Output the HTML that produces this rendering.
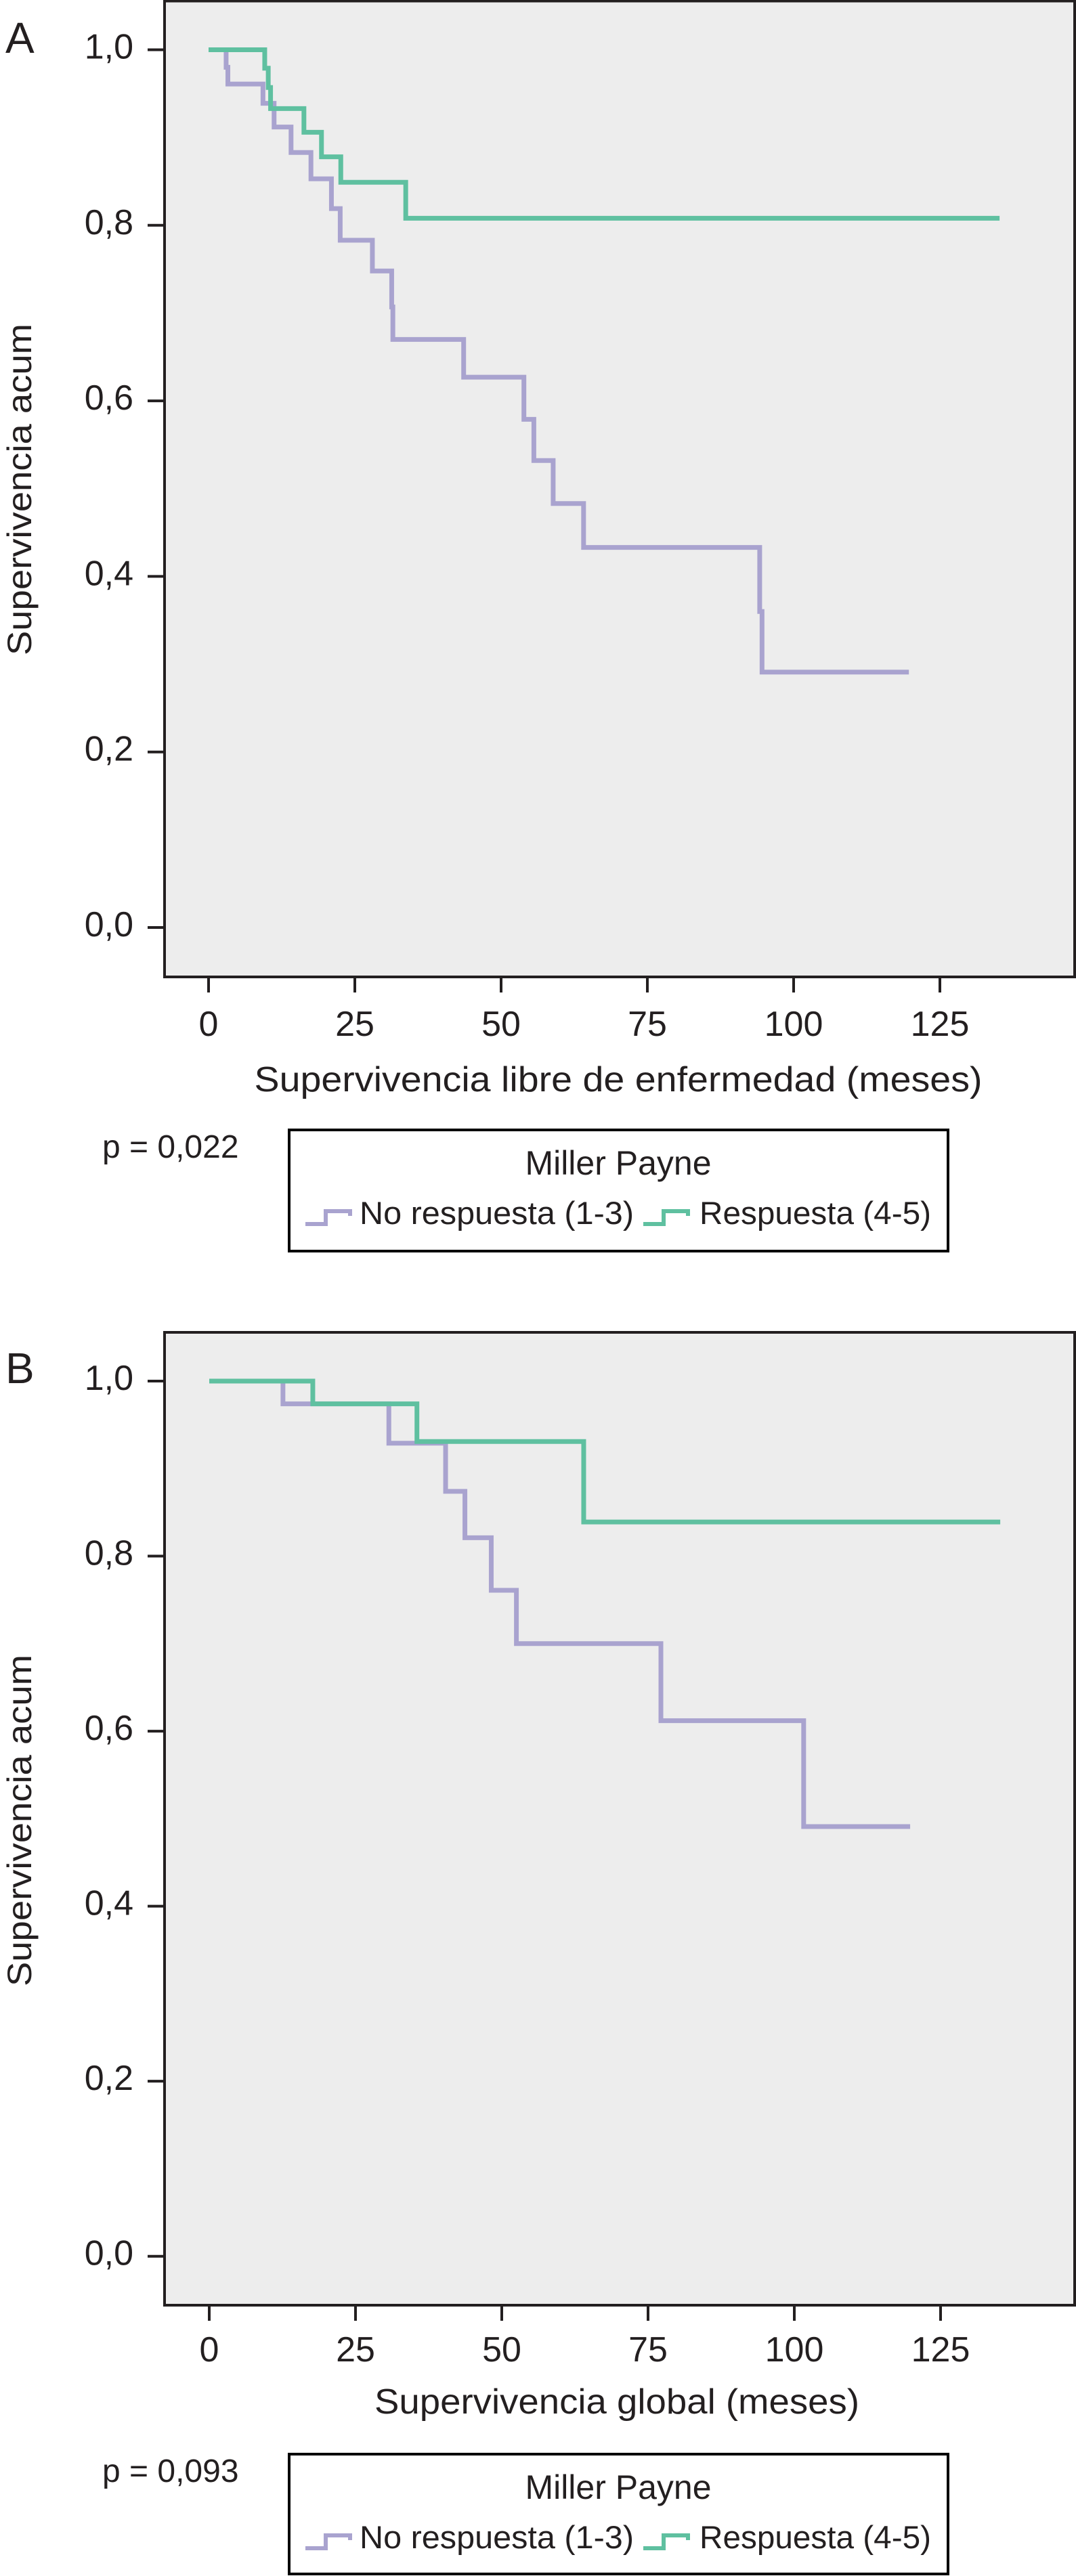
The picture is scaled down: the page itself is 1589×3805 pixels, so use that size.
<!DOCTYPE html>
<html><head><meta charset="utf-8"><style>
html,body{margin:0;padding:0;background:#fff}
svg{display:block}
text{font-family:"Liberation Sans",sans-serif;fill:#231f20}
</style></head><body>
<svg id="fig" width="1589" height="3805" viewBox="0 0 1589 3805" xmlns="http://www.w3.org/2000/svg"></svg>
<script>
// ---- data: panel A (disease-free survival) ----
const aNoRespTimes = [0, 3.0, 3.3, 9.3, 11.2, 14.1, 17.5, 21.0, 22.5, 28.0, 31.3, 31.5, 43.6, 53.9, 55.6, 58.9, 64.1, 94.2, 94.6];
const aNoRespSurv  = [1.0, 0.98, 0.961, 0.939, 0.912, 0.883, 0.853, 0.819, 0.783, 0.748, 0.707, 0.670, 0.627, 0.579, 0.532, 0.483, 0.433, 0.360, 0.291];
const aNoRespEnd = 119.7;
const aRespTimes = [0, 9.6, 10.2, 10.6, 16.3, 19.3, 22.6, 33.7];
const aRespSurv  = [1.0, 0.979, 0.957, 0.933, 0.906, 0.878, 0.849, 0.808];
const aRespEnd = 135.2;
// ---- data: panel B (overall survival) ----
const bNoRespTimes = [0, 12.6, 30.7, 40.4, 43.7, 48.2, 52.5, 77.2, 101.6];
const bNoRespSurv  = [1.0, 0.974, 0.929, 0.874, 0.821, 0.761, 0.700, 0.612, 0.491];
const bNoRespEnd = 119.8;
const bRespTimes = [0, 17.7, 35.5, 64.0];
const bRespSurv  = [1.0, 0.974, 0.931, 0.839];
const bRespEnd = 135.2;
// ---- ticks ----
const xTickValues = [0, 25, 50, 75, 100, 125];
const xTickLabels = ["0", "25", "50", "75", "100", "125"];
const yTickValues = [0, 0.2, 0.4, 0.6, 0.8, 1.0];
const yTickLabels = ["0,0", "0,2", "0,4", "0,6", "0,8", "1,0"];

const NS = "http://www.w3.org/2000/svg";
const svg = document.getElementById('fig');
const PURPLE = "#a9a3cf", GREEN = "#5fc0a0";

function mk(tag, attrs, parent, txt) {
  const e = document.createElementNS(NS, tag);
  for (const k in attrs) e.setAttribute(k, attrs[k]);
  if (txt !== undefined) e.textContent = txt;
  (parent || svg).appendChild(e);
  return e;
}

function panel(cfg) {
  const g = mk('g', {});
  
  
  const x = v => cfg.x0 + v * (216 / 25);
  const y = v => cfg.yZero - v * (cfg.yZero - cfg.yOne);

  const bg = mk('rect', {x: 243, y: cfg.top, width: 1344, height: cfg.bottom - cfg.top, fill: '#ededed', stroke: '#231f20', 'stroke-width': 4}, g);
  
  

  const pl = mk('text', {x: 8, y: cfg.letterY, 'font-size': 64}, g, cfg.letter);
  
  

  yTickValues.forEach((v, i) => {
    const t = mk('line', {x1: 218, x2: 243, y1: y(v), y2: y(v), stroke: '#231f20', 'stroke-width': 4}, g);
    
    
    const l = mk('text', {x: 197, y: y(v) + 13, 'font-size': 52, 'text-anchor': 'end'}, g, yTickLabels[i]);
    
    
  });
  xTickValues.forEach((v, i) => {
    const t = mk('line', {x1: x(v), x2: x(v), y1: cfg.bottom, y2: cfg.bottom + 23, stroke: '#231f20', 'stroke-width': 4}, g);
    
    
    const l = mk('text', {x: x(v), y: cfg.xLabelY, 'font-size': 52, 'text-anchor': 'middle'}, g, xTickLabels[i]);
    
    
  });

  const xt = mk('text', {x: cfg.xTitleX, y: cfg.xTitleY, 'font-size': 52, 'text-anchor': 'middle', textLength: cfg.xTitleLen, lengthAdjust: 'spacingAndGlyphs'}, g, cfg.xTitle);
  
  

  const yt = mk('text', {x: 0, y: 0, 'font-size': 50, 'text-anchor': 'middle', textLength: 490, lengthAdjust: 'spacingAndGlyphs', transform: `translate(46,${cfg.yTitleY}) rotate(-90)`}, g, 'Supervivencia acum');
  
  

  function curve(times, surv, end, color, name) {
    let d = `M${x(times[0])},${y(surv[0])}`;
    for (let i = 1; i < times.length; i++) {
      d += ` H${x(times[i])} V${y(surv[i])}`;
    }
    d += ` H${x(end)}`;
    const p = mk('path', {d: d, fill: 'none', stroke: color, 'stroke-width': 7, 'stroke-linejoin': 'miter', 'stroke-linecap': 'butt'}, g);
    
    
  }
  curve(cfg.nrT, cfg.nrS, cfg.nrE, PURPLE, 'no-response-curve');
  curve(cfg.rT, cfg.rS, cfg.rE, GREEN, 'response-curve');

  const pv = mk('text', {x: 151, y: cfg.legTop + 41, 'font-size': 48}, g, cfg.pText);
  
  

  const lg = mk('g', {}, g);
  
  
  mk('rect', {x: 427, y: cfg.legTop, width: 973, height: cfg.legH, fill: '#fff', stroke: '#000', 'stroke-width': 4}, lg);
  const lt = mk('text', {x: 913, y: cfg.legTop + 66, 'font-size': 50, 'text-anchor': 'middle'}, lg, 'Miller Payne');
  
  
  const by = cfg.legTop + 139;
  [[451, PURPLE, 531, 'No respuesta (1-3)', 405, 'legend-entry-no-response'],
   [950, GREEN, 1033, 'Respuesta (4-5)', 342, 'legend-entry-response']].forEach(e => {
    const eg = mk('g', {}, lg);
    
    
    mk('path', {d: `M${e[0]},${by} H${e[0] + 30} V${by - 19} H${e[0] + 66} V${by - 12}`, fill: 'none', stroke: e[1], 'stroke-width': 6}, eg);
    mk('text', {x: e[2], y: by, 'font-size': 47, textLength: e[4], lengthAdjust: 'spacingAndGlyphs'}, eg, e[3]);
  });
}

panel({name: 'panel-a-chart', letter: 'A', letterY: 78, top: 1.5, bottom: 1443, yOne: 73.5, yZero: 1370, x0: 308,
  xLabelY: 1530, xTitle: 'Supervivencia libre de enfermedad (meses)', xTitleX: 913, xTitleY: 1612, xTitleLen: 1075,
  yTitleY: 723, nrT: aNoRespTimes, nrS: aNoRespSurv, nrE: aNoRespEnd, rT: aRespTimes, rS: aRespSurv, rE: aRespEnd,
  pText: 'p = 0,022', legTop: 1669, legH: 179});
panel({name: 'panel-b-chart', letter: 'B', letterY: 2043, top: 1968, bottom: 3405, yOne: 2040, yZero: 3332.7, x0: 309,
  xLabelY: 3488, xTitle: 'Supervivencia global (meses)', xTitleX: 911, xTitleY: 3565, xTitleLen: 716,
  yTitleY: 2689, nrT: bNoRespTimes, nrS: bNoRespSurv, nrE: bNoRespEnd, rT: bRespTimes, rS: bRespSurv, rE: bRespEnd,
  pText: 'p = 0,093', legTop: 3625, legH: 177});
</script>
</body></html>
